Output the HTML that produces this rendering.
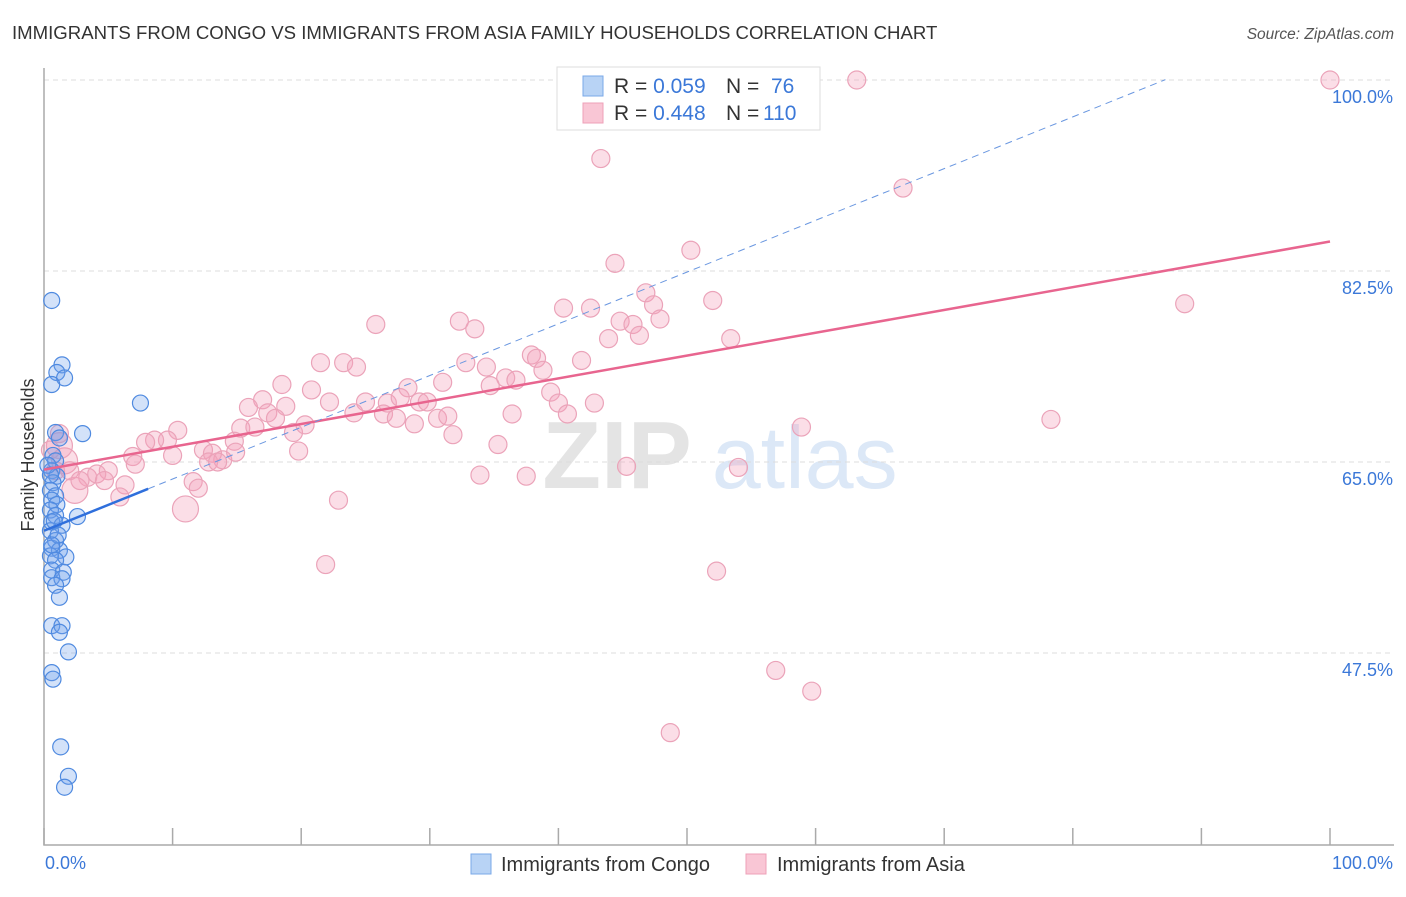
<!DOCTYPE html>
<html><head><meta charset="utf-8"><style>
body{margin:0;background:#fff;font-family:"Liberation Sans",sans-serif;}
svg text{font-family:"Liberation Sans",sans-serif;}
</style></head><body>
<svg id="chart" width="1406" height="892" xmlns="http://www.w3.org/2000/svg">
<text x="12" y="39" font-size="18.6" fill="#333">IMMIGRANTS FROM CONGO VS IMMIGRANTS FROM ASIA FAMILY HOUSEHOLDS CORRELATION CHART</text>
<text x="1394" y="39" font-size="15.5" fill="#555" font-style="italic" text-anchor="end">Source: ZipAtlas.com</text>
<text x="720" y="488" font-size="96" fill="#e4e4e4" text-anchor="middle" font-family="Liberation Serif" font-weight="bold">ZIP<tspan fill="#dce8f7" font-family="Liberation Sans" font-weight="normal" font-size="88" dx="20">atlas</tspan></text>
<g id="grid"></g>
<g id="axes"></g>
<g id="marks"></g>
<text transform="translate(34,455) rotate(-90)" font-size="18" fill="#333" text-anchor="middle">Family Households</text>
<g>
<rect x="557" y="67" width="263" height="63" fill="#fff" stroke="#ddd"/>
<rect x="583" y="76" width="20" height="20" fill="#b8d3f5" stroke="#7aa8e8"/>
<rect x="583" y="103" width="20" height="20" fill="#f9c6d5" stroke="#eea0b8"/>
<text x="614" y="93" font-size="21" fill="#333">R = <tspan fill="#3b78d8">0.059</tspan><tspan x="726">N = </tspan><tspan x="771" fill="#3b78d8">76</tspan></text>
<text x="614" y="120" font-size="21" fill="#333">R = <tspan fill="#3b78d8">0.448</tspan><tspan x="726">N = </tspan><tspan x="763" fill="#3b78d8">110</tspan></text>
</g>
<g>
<rect x="471" y="854" width="20" height="20" fill="#b8d3f5" stroke="#7aa8e8"/>
<text x="501" y="871" font-size="20" fill="#333">Immigrants from Congo</text>
<rect x="746" y="854" width="20" height="20" fill="#f9c6d5" stroke="#eea0b8"/>
<text x="777" y="871" font-size="20" fill="#333">Immigrants from Asia</text>
</g>
</svg>
<script>
const yTicks=[100,82.5,65,47.5];
const yTickLabels=["100.0%","82.5%","65.0%","47.5%"];
const xTicks=[0,10,20,30,40,50,60,70,80,90,100];
const congoX=[0.6,1.4,1.0,1.6,0.6,7.5,3.0,0.9,1.2,0.7,0.9,0.6,1.0,0.7,0.5,0.9,0.6,1.0,0.5,0.9,2.6,0.6,1.4,0.5,0.9,0.6,1.2,1.7,0.5,0.9,0.6,1.5,0.6,1.4,0.9,1.2,0.6,1.4,1.2,1.9,0.6,0.7,1.3,1.9,1.6,0.3,0.5,0.8,1.1,0.6];
const congoY=[79.8,73.9,73.2,72.7,72.1,70.4,67.6,67.7,67.2,65.6,65.1,64.2,63.7,63.1,62.4,61.9,61.5,61.1,60.6,60.1,60.0,59.5,59.2,58.7,57.8,57.1,56.9,56.3,56.4,56.0,55.1,54.9,54.4,54.3,53.7,52.6,50.0,50.0,49.4,47.6,45.7,45.1,38.9,36.2,35.2,64.7,63.8,59.6,58.3,57.4];
const asiaX=[100,63.2,43.3,66.8,50.3,44.4,52.0,88.7,42.5,40.4,46.8,47.4,47.9,44.8,45.8,46.3,43.9,53.4,32.3,33.5,25.8,37.9,38.3,38.8,41.8,21.5,23.3,24.3,32.8,34.4,35.9,36.7,34.7,31.0,28.3,18.5,20.8,22.2,17.0,15.9,17.4,18.8,18.0,25.0,26.7,29.2,29.8,27.7,24.1,26.4,27.4,28.8,30.6,31.4,36.4,39.4,40.0,40.7,42.8,78.3,58.9,19.4,20.3,15.3,16.4,10.4,9.6,8.6,7.9,6.9,10.0,12.4,13.1,13.9,14.8,14.9,12.8,13.5,19.8,31.8,35.3,45.3,54.0,33.9,37.5,11.6,12.0,22.9,11.0,7.1,5.0,3.4,4.1,6.3,5.9,2.4,1.6,1.2,0.5,0.9,2.0,2.8,21.9,52.3,56.9,59.7,48.7,1.2,4.7];
const asiaY=[100.0,100.0,92.8,90.1,84.4,83.2,79.8,79.5,79.1,79.1,80.5,79.4,78.1,77.9,77.6,76.6,76.3,76.3,77.9,77.2,77.6,74.8,74.5,73.4,74.3,74.1,74.1,73.7,74.1,73.7,72.7,72.5,72.0,72.3,71.8,72.1,71.6,70.5,70.7,70.0,69.5,70.1,69.0,70.5,70.4,70.5,70.5,70.9,69.5,69.4,69.0,68.5,69.0,69.2,69.4,71.4,70.4,69.4,70.4,68.9,68.2,67.7,68.4,68.1,68.2,67.9,67.0,67.0,66.8,65.5,65.6,66.1,65.8,65.2,66.9,65.9,65.0,65.0,66.0,67.5,66.6,64.6,64.5,63.8,63.7,63.2,62.6,61.5,60.7,64.8,64.2,63.6,63.9,62.9,61.8,62.4,65.1,66.5,66.1,64.2,64.2,63.3,55.6,55.0,45.9,44.0,40.2,67.6,63.3];
const asiaBig=[0,0,0,0,0,0,0,0,0,0,0,0,0,0,0,0,0,0,0,0,0,0,0,0,0,0,0,0,0,0,0,0,0,0,0,0,0,0,0,0,0,0,0,0,0,0,0,0,0,0,0,0,0,0,0,0,0,0,0,0,0,0,0,0,0,0,0,0,0,0,0,0,0,0,0,0,0,0,0,0,0,0,0,0,0,0,0,0,1,0,0,0,0,0,0,1,1,1,0,0,0,0,0,0,0,0,0,0,0];
const congoTrend=[58.7,0.474,8.1,87.2];
const asiaTrend=[64.3,85.2];
const NS="http://www.w3.org/2000/svg";
const xs=v=>44+v*12.86, ys=v=>80+(100-v)*10.914;
function mk(parent,tag,attrs){const e=document.createElementNS(NS,tag);for(const k in attrs)e.setAttribute(k,attrs[k]);document.getElementById(parent).appendChild(e);return e;}
yTicks.forEach((t,i)=>{
  const g=mk('grid','line',{x1:44,x2:1394,y1:ys(t),y2:ys(t),stroke:'#ddd','stroke-dasharray':'5,4'});
  
  
  const l=mk('grid','text',{x:1393,y:ys(t)+23,'font-size':18,fill:'#3b78d8','text-anchor':'end'});
  l.textContent=yTickLabels[i];
  
  
});
const ax=mk('axes','path',{d:'M44,68V845H1394',stroke:'#aaa',fill:'none','stroke-width':1.5});


xTicks.forEach(t=>{const k=mk('axes','line',{x1:xs(t),x2:xs(t),y1:828,y2:845,stroke:'#aaa','stroke-width':1.5});
  
  });
const x0=mk('axes','text',{x:45,y:869,'font-size':18,fill:'#3b78d8'});x0.textContent='0.0%';


const x1=mk('axes','text',{x:1393,y:869,'font-size':18,fill:'#3b78d8','text-anchor':'end'});x1.textContent='100.0%';


asiaX.forEach((x,i)=>{const c=mk('marks','circle',{cx:xs(x),cy:ys(asiaY[i]),r:asiaBig[i]?13:9,fill:'rgba(244,160,185,0.35)',stroke:'#eba3b9','stroke-width':1.2});
  
  });
congoX.forEach((x,i)=>{const c=mk('marks','circle',{cx:xs(x),cy:ys(congoY[i]),r:8,fill:'rgba(110,160,235,0.3)',stroke:'#4f8ae0','stroke-width':1.2});
  
  });
const pl=mk('marks','line',{x1:xs(0),y1:ys(asiaTrend[0]),x2:xs(100),y2:ys(asiaTrend[1]),stroke:'#e8658f','stroke-width':2.5});


const [b0,bs,bEnd,bDash]=congoTrend;
const bl=mk('marks','line',{x1:xs(0),y1:ys(b0),x2:xs(bEnd),y2:ys(b0+bs*bEnd),stroke:'#2f6fdc','stroke-width':2.5});


const bd=mk('marks','line',{x1:xs(bEnd),y1:ys(b0+bs*bEnd),x2:xs(bDash),y2:ys(b0+bs*bDash),stroke:'#6a97e0','stroke-width':1,'stroke-dasharray':'7,5'});


</script>
</body></html>
